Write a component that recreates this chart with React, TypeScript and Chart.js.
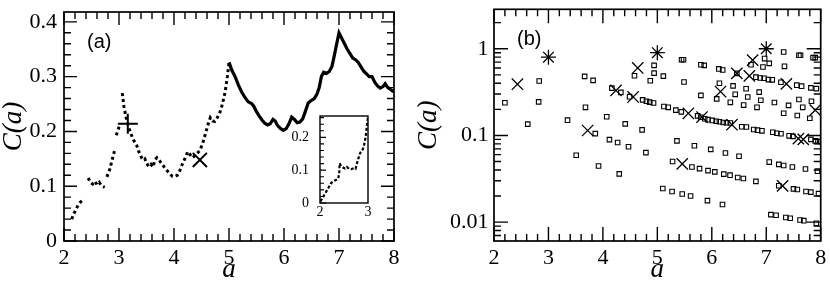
import React, { useEffect, useRef } from 'react';
import { Chart, registerables } from 'chart.js';
Chart.register(...registerables);

// ---------- Panel (a): main curve ----------
const aSparseX = [2.14, 2.18, 2.22, 2.26, 2.30, 2.36, 2.40,
  2.44, 2.48, 2.52, 2.56, 2.60, 2.64, 2.68, 2.74, 2.76,
  2.78, 2.83, 2.88, 2.92, 2.935,
  2.95, 2.99, 3.01, 3.03,
  3.06, 3.09, 3.13, 3.20, 3.26, 3.32, 3.36, 3.41, 3.44, 3.47, 3.50, 3.54, 3.58, 3.62, 3.65, 3.69, 3.74,
  3.80, 3.86, 3.92, 3.97, 4.02, 4.06, 4.10, 4.15, 4.20, 4.25, 4.29, 4.33, 4.37, 4.42, 4.47, 4.52, 4.57,
  4.62, 4.66, 4.70, 4.74, 4.78, 4.83, 4.88, 4.93, 4.97, 5.00];
const aSparseY = [0.040, 0.050, 0.058, 0.066, 0.071, 0.076, null,
  0.115, 0.107, 0.104, 0.109, 0.103, 0.107, 0.101, 0.098, null,
  0.117, 0.130, 0.150, 0.165, null,
  0.193, 0.205, 0.212, null,
  0.270, 0.245, 0.225, 0.200, 0.185, 0.175, 0.163, 0.152, 0.148, 0.150, 0.142, 0.136, 0.140, 0.135, 0.148, 0.152, 0.146,
  0.138, 0.130, 0.123, 0.118, 0.118, 0.120, 0.127, 0.140, 0.151, 0.163, 0.158, 0.152, 0.155, 0.160, 0.165, 0.178, 0.195,
  0.213, 0.225, 0.219, 0.218, 0.224, 0.233, 0.250, 0.272, 0.300, 0.325];

const aDenseX = [5.00, 5.05, 5.11, 5.17, 5.23, 5.29, 5.35, 5.41, 5.45, 5.50, 5.55, 5.60, 5.65, 5.70, 5.75, 5.80,
  5.84, 5.88, 5.94, 5.99, 6.04, 6.09, 6.14, 6.19, 6.24, 6.29, 6.34, 6.39, 6.44, 6.49, 6.55, 6.60, 6.64, 6.68,
  6.72, 6.77, 6.82, 6.87, 6.91, 6.95, 7.00, 7.05, 7.10, 7.15, 7.20, 7.25, 7.30, 7.35, 7.40, 7.45, 7.50, 7.55,
  7.60, 7.65, 7.70, 7.75, 7.80, 7.84, 7.88, 7.93, 8.00];
const aDenseY = [0.326, 0.312, 0.300, 0.285, 0.272, 0.262, 0.254, 0.251, 0.246, 0.236, 0.228, 0.221, 0.215, 0.212, 0.214, 0.222,
  0.219, 0.211, 0.205, 0.202, 0.205, 0.214, 0.226, 0.222, 0.216, 0.217, 0.223, 0.237, 0.252, 0.256, 0.260, 0.268, 0.280, 0.300,
  0.308, 0.306, 0.309, 0.318, 0.336, 0.356, 0.380, 0.370, 0.360, 0.350, 0.342, 0.334, 0.331, 0.326, 0.318, 0.310, 0.305, 0.300,
  0.300, 0.290, 0.283, 0.279, 0.282, 0.287, 0.281, 0.277, 0.272];

const aPlusX = [3.16];
const aPlusY = [0.214];
const aCrossX = [4.47];
const aCrossY = [0.148];

// ---------- Inset of panel (a) ----------
const insetX = [2.01, 2.05, 2.10, 2.17, 2.22, 2.26, 2.30, 2.34, 2.38, 2.40, 2.41, 2.44, 2.48, 2.52, 2.56, 2.60,
  2.65, 2.70, 2.74, 2.78, 2.83, 2.86, 2.89, 2.92, 2.95, 2.98, 3.00];
const insetY = [0.005, 0.015, 0.027, 0.045, 0.058, 0.065, 0.068, 0.071, 0.075, 0.090, 0.121, 0.112, 0.108, 0.105, 0.110, 0.104,
  0.103, 0.106, 0.104, 0.126, 0.150, 0.158, 0.163, 0.178, 0.200, 0.240, 0.262];

// ---------- Panel (b) ----------
const bSquareX = [2.20, 2.62, 2.83, 2.82, 3.35, 3.51, 3.665, 3.82, 3.68, 3.86, 3.92,
  4.94, 4.94, 4.58, 5.11, 4.87, 4.165, 4.33, 4.49, 4.73, 4.80, 4.86, 4.93, 5.12, 5.20, 4.07, 4.41, 4.72,
  4.12, 4.27, 4.47, 4.79, 4.30, 5.28, 5.10, 5.27,
  5.445, 5.48, 5.80, 5.86, 6.13, 6.20, 6.46, 5.49, 6.14, 6.39, 5.80, 6.09, 6.43, 6.34, 6.63, 6.585,
  5.34, 5.44, 5.74, 5.80, 5.87, 5.93, 6.01, 6.08, 6.14, 6.21, 6.27, 6.34, 6.55, 6.635,
  5.36, 5.68, 5.98, 6.25, 6.50,
  5.635, 5.775, 5.93, 6.055, 6.22, 6.335, 6.476, 6.58,
  5.457, 5.61, 5.92, 6.196,
  6.97, 7.055, 6.94, 6.72, 7.32, 7.335, 7.60, 7.63, 7.86, 7.90,
  6.81, 6.89, 6.96, 7.04, 7.11, 7.27, 7.56, 7.65, 7.82, 7.92,
  6.66, 6.87, 6.90, 6.83, 7.15, 7.41, 7.32, 7.60, 7.67, 7.57, 7.83, 7.80,
  6.77, 6.84, 6.92, 7.12, 7.195, 7.27, 7.42, 7.49, 7.82, 7.90, 7.95, 8.00,
  7.055, 7.23, 7.32, 7.48, 7.72, 7.94,
  6.81, 7.23, 7.50, 7.57, 7.73, 7.82, 7.96,
  7.085, 7.18, 7.36, 7.44, 7.62, 7.69, 7.92];
const bSquareY = [0.238, 0.135, 0.425, 0.244, 0.150, 0.059, 0.48, 0.432, 0.211, 0.105, 0.0444,
  0.643, 0.523, 0.488, 0.483, 0.428, 0.351, 0.314, 0.28, 0.257, 0.248, 0.242, 0.237, 0.216, 0.211, 0.164, 0.136, 0.116,
  0.0895, 0.083, 0.074, 0.0634, 0.036, 0.050, 0.0244, 0.0226,
  0.746, 0.746, 0.654, 0.643, 0.585, 0.569, 0.52, 0.414, 0.40, 0.373, 0.29, 0.264, 0.298, 0.241, 0.345, 0.224,
  0.196, 0.187, 0.168, 0.162, 0.156, 0.152, 0.149, 0.146, 0.144, 0.141, 0.140, 0.139, 0.126, 0.125,
  0.0865, 0.076, 0.069, 0.0627, 0.0575,
  0.0433, 0.0414, 0.0393, 0.038, 0.0358, 0.0348, 0.0327, 0.0319,
  0.0211, 0.020, 0.0177, 0.016,
  0.77, 0.678, 0.615, 0.654, 0.918, 0.627, 0.84, 0.84, 0.79, 0.79,
  0.47, 0.46, 0.456, 0.44, 0.438, 0.41, 0.38, 0.37, 0.354, 0.347,
  0.278, 0.316, 0.255, 0.211, 0.24, 0.222, 0.18, 0.26, 0.211, 0.17, 0.248, 0.158,
  0.117, 0.115, 0.113, 0.109, 0.106, 0.1045, 0.099, 0.0975, 0.090, 0.0865, 0.085, 0.085,
  0.0493, 0.0464, 0.045, 0.0433, 0.041, 0.0387,
  0.0295, 0.0263, 0.0242, 0.0238, 0.0226, 0.0222, 0.0213,
  0.0122, 0.012, 0.0113, 0.0111, 0.0106, 0.0104, 0.0097];

const bCrossX = [2.43, 3.72, 4.24, 4.555, 4.64, 5.457, 5.57, 5.82, 6.16, 6.37, 6.46, 6.69, 6.75, 7.30, 7.37, 7.59, 7.68, 7.90];
const bCrossY = [0.39, 0.114, 0.33, 0.278, 0.60, 0.047, 0.18, 0.163, 0.321, 0.133, 0.52, 0.487, 0.738, 0.0262, 0.393, 0.092, 0.090, 0.196];

const bStarX = [3, 5, 7];
const bStarY = [0.8, 0.9, 1.0];

// ---------- Axis ticks ----------
const xTicks = [2, 3, 4, 5, 6, 7, 8];
const aYTicks = [0, 0.1, 0.2, 0.3, 0.4];
const aYLabels = ['0', '0.1', '0.2', '0.3', '0.4'];
const bYTicks = [0.01, 0.1, 1];
const bYLabels = ['0.01', '0.1', '1'];
const insetXTicks = [2, 3];
const insetYTicks = [0, 0.1, 0.2];
const insetYLabels = ['0', '0.1', '0.2'];

const SERIF = "'Liberation Serif', 'Times New Roman', serif";
const SANS = "'Liberation Sans', Arial, sans-serif";

const pts = (xs: number[], ys: (number | null)[]) => xs.map((x, i) => ({ x, y: ys[i] }));

function range(a: number, b: number, step: number) {
  const out: number[] = [];
  for (let v = a; v <= b + 1e-9; v += step) out.push(Math.round(v * 1000) / 1000);
  return out;
}
function logMinor(lo: number, hi: number) {
  const out: number[] = [];
  for (let e = -3; e <= 1; e++) {
    for (let m = 2; m <= 9; m++) {
      const v = m * Math.pow(10, e);
      if (v >= lo && v <= hi) out.push(v);
    }
  }
  return out;
}

const zeroPad = (s: any) => { s.paddingLeft = 0; s.paddingRight = 0; s.paddingTop = 0; s.paddingBottom = 0; };

function makeFrame(id: string, cfg: any) {
  const xMarks: number[][] = [];
  cfg.xMajor.forEach((v: number) => xMarks.push([v, cfg.majorLen]));
  cfg.xMinor.forEach((v: number) => xMarks.push([v, cfg.minorLen]));
  const yMarks: number[][] = [];
  cfg.yMajor.forEach((v: number) => yMarks.push([v, cfg.majorLen]));
  cfg.yMinor.forEach((v: number) => yMarks.push([v, cfg.minorLen]));
  const doL = cfg.sides.indexOf('l') >= 0, doR = cfg.sides.indexOf('r') >= 0;
  const doT = cfg.sides.indexOf('t') >= 0, doB = cfg.sides.indexOf('b') >= 0;
  return {
    id,
    beforeDatasetsDraw(chart: any) {
      if (!cfg.fill) return;
      const a = chart.chartArea;
      chart.ctx.save();
      chart.ctx.fillStyle = '#ffffff';
      chart.ctx.fillRect(a.left, a.top, a.right - a.left, a.bottom - a.top);
      chart.ctx.restore();
    },
    afterDraw(chart: any) {
      const ctx = chart.ctx;
      const a = chart.chartArea;
      const xs = chart.scales.x;
      const ys = chart.scales.y;
      ctx.save();
      ctx.setLineDash([]);
      ctx.globalAlpha = 1;
      ctx.strokeStyle = '#000000';
      ctx.lineWidth = cfg.tickWidth;
      ctx.beginPath();
      for (let i = 0; i < xMarks.length; i++) {
        const p = xs.getPixelForValue(xMarks[i][0]);
        const len = xMarks[i][1];
        if (doB) { ctx.moveTo(p, a.bottom); ctx.lineTo(p, a.bottom - len); }
        if (doT) { ctx.moveTo(p, a.top); ctx.lineTo(p, a.top + len); }
      }
      for (let i = 0; i < yMarks.length; i++) {
        const p = ys.getPixelForValue(yMarks[i][0]);
        const len = yMarks[i][1];
        if (doL) { ctx.moveTo(a.left, p); ctx.lineTo(a.left + len, p); }
        if (doR) { ctx.moveTo(a.right, p); ctx.lineTo(a.right - len, p); }
      }
      ctx.stroke();
      ctx.lineWidth = cfg.frameWidth;
      ctx.strokeRect(a.left, a.top, a.right - a.left, a.bottom - a.top);
      if (cfg.label) {
        ctx.fillStyle = '#000000';
        ctx.font = `20px ${SANS}`;
        ctx.textAlign = 'left';
        ctx.textBaseline = 'alphabetic';
        ctx.fillText(cfg.label, a.left + 23, a.top + 36);
      }
      ctx.restore();
    },
  };
}

function mainScales(yType: string, yMin: number, yMax: number, yTicks: number[], yLabels: string[], yWidth: number, yPad: number) {
  return {
    x: {
      type: 'linear', min: 2, max: 8,
      afterFit: (s: any) => { s.height = 44; zeroPad(s); },
      afterBuildTicks: (s: any) => { s.ticks = xTicks.map((v) => ({ value: v })); },
      grid: { display: false, drawTicks: false },
      border: { display: false },
      ticks: { padding: 4, color: '#000', font: { family: SERIF, size: 22 }, maxRotation: 0, callback: (v: any) => String(v) },
      title: { display: true, text: 'a', color: '#000', font: { family: SERIF, size: 27, style: 'italic', lineHeight: 1 }, padding: { top: 0, bottom: 1.5 } },
    },
    y: {
      type: yType, min: yMin, max: yMax,
      afterFit: (s: any) => { s.width = yWidth; zeroPad(s); },
      afterBuildTicks: (s: any) => { s.ticks = yTicks.map((v) => ({ value: v })); },
      grid: { display: false, drawTicks: false },
      border: { display: false },
      ticks: { padding: yPad, color: '#000', font: { family: SERIF, size: 22 }, callback: (v: any) => { const i = yTicks.findIndex((t) => Math.abs(t - v) < 1e-9); return i >= 0 ? yLabels[i] : ''; } },
      title: { display: true, text: 'C(a)', color: '#000', font: { family: SERIF, size: 27, style: 'italic', lineHeight: 1 }, padding: { top: 0.5, bottom: 0 } },
    },
  };
}

export default function App() {
  const refA = useRef<HTMLCanvasElement>(null);
  const refB = useRef<HTMLCanvasElement>(null);
  const refI = useRef<HTMLCanvasElement>(null);

  useEffect(() => {
    const charts: Chart[] = [];

    charts.push(new Chart(refA.current!, {
      type: 'scatter',
      data: {
        datasets: [
          { data: pts(aSparseX, aSparseY), showLine: true, pointRadius: 0, borderColor: '#000', borderWidth: 3, borderDash: [3, 3], spanGaps: false },
          { data: pts(aDenseX, aDenseY), showLine: true, pointRadius: 0, borderColor: '#000', borderWidth: 3.2 },
          { data: pts(aPlusX, aPlusY), pointStyle: 'cross', pointRadius: 10, borderColor: '#000', borderWidth: 2 },
          { data: pts(aCrossX, aCrossY), pointStyle: 'crossRot', pointRadius: 10, borderColor: '#000', borderWidth: 2 },
        ],
      },
      options: {
        animation: false, responsive: false, devicePixelRatio: 1,
        layout: { padding: { top: 4, right: 21, left: 0, bottom: 0 } },
        plugins: { legend: { display: false }, tooltip: { enabled: false } },
        scales: mainScales('linear', 0, 0.418, aYTicks, aYLabels, 64, 7),
      },
      plugins: [makeFrame('frameA', { xMajor: xTicks, xMinor: range(2, 8, 0.2), yMajor: aYTicks, yMinor: range(0, 0.418, 0.02), majorLen: 13, minorLen: 7, sides: 'lrtb', tickWidth: 1.4, frameWidth: 1.7, label: '(a)' })],
    } as any));

    charts.push(new Chart(refB.current!, {
      type: 'scatter',
      data: {
        datasets: [
          { data: pts(bSquareX, bSquareY), pointStyle: 'rect', pointRadius: 3.2, borderColor: '#000', backgroundColor: 'rgba(0,0,0,0)', borderWidth: 1.1 },
          { data: pts(bCrossX, bCrossY), pointStyle: 'crossRot', pointRadius: 8, borderColor: '#000', borderWidth: 1.3 },
          { data: pts(bStarX, bStarY), pointStyle: 'star', pointRadius: 7.5, borderColor: '#000', borderWidth: 1.3 },
        ],
      },
      options: {
        animation: false, responsive: false, devicePixelRatio: 1,
        layout: { padding: { top: 4, right: 8, left: 0, bottom: 0 } },
        plugins: { legend: { display: false }, tooltip: { enabled: false } },
        scales: mainScales('logarithmic', 0.00606, 2.85, bYTicks, bYLabels, 79, 5.5),
      },
      plugins: [makeFrame('frameB', { xMajor: xTicks, xMinor: range(2, 8, 0.2), yMajor: bYTicks, yMinor: logMinor(0.00606, 2.85), majorLen: 14, minorLen: 7, sides: 'lrtb', tickWidth: 1.4, frameWidth: 1.7, label: '(b)' })],
    } as any));

    charts.push(new Chart(refI.current!, {
      type: 'scatter',
      data: {
        datasets: [
          { data: pts(insetX, insetY), showLine: true, pointRadius: 0, borderColor: '#000', borderWidth: 2.2, borderDash: [3, 2] },
        ],
      },
      options: {
        animation: false, responsive: false, devicePixelRatio: 1,
        layout: { padding: { top: 6, right: 7, left: 0, bottom: 0 } },
        plugins: { legend: { display: false }, tooltip: { enabled: false } },
        scales: {
          x: {
            type: 'linear', min: 2, max: 3,
            afterFit: (s: any) => { s.height = 17; zeroPad(s); },
            afterBuildTicks: (s: any) => { s.ticks = insetXTicks.map((v) => ({ value: v })); },
            grid: { display: false, drawTicks: false }, border: { display: false },
            ticks: { padding: 1, color: '#000', font: { family: SERIF, size: 14 }, maxRotation: 0, callback: (v: any) => String(v) },
          },
          y: {
            type: 'linear', min: 0, max: 0.265,
            afterFit: (s: any) => { s.width = 30; zeroPad(s); },
            afterBuildTicks: (s: any) => { s.ticks = insetYTicks.map((v) => ({ value: v })); },
            grid: { display: false, drawTicks: false }, border: { display: false },
            ticks: { padding: 11, color: '#000', font: { family: SERIF, size: 14 }, callback: (v: any) => { const i = insetYTicks.findIndex((t) => Math.abs(t - v) < 1e-9); return i >= 0 ? insetYLabels[i] : ''; } },
          },
        },
      },
      plugins: [makeFrame('frameI', { xMajor: [], xMinor: [], yMajor: insetYTicks, yMinor: range(0, 0.265, 0.02), majorLen: 6, minorLen: 4, sides: 'l', tickWidth: 1.1, frameWidth: 1.4, fill: true })],
    } as any));

    return () => charts.forEach((c) => c.destroy());
  }, []);

  return (
    <div style={{ position: 'absolute', left: 0, top: 0, width: 830, height: 285, background: '#fff', overflow: 'hidden' }}>
      <canvas ref={refA} width={415} height={285} style={{ position: 'absolute', left: 0, top: 0, width: 415, height: 285 }} />
      <canvas ref={refB} width={415} height={285} style={{ position: 'absolute', left: 415, top: 0, width: 415, height: 285 }} />
      <canvas ref={refI} width={85} height={110} style={{ position: 'absolute', left: 290, top: 110, width: 85, height: 110 }} />
    </div>
  );
}
